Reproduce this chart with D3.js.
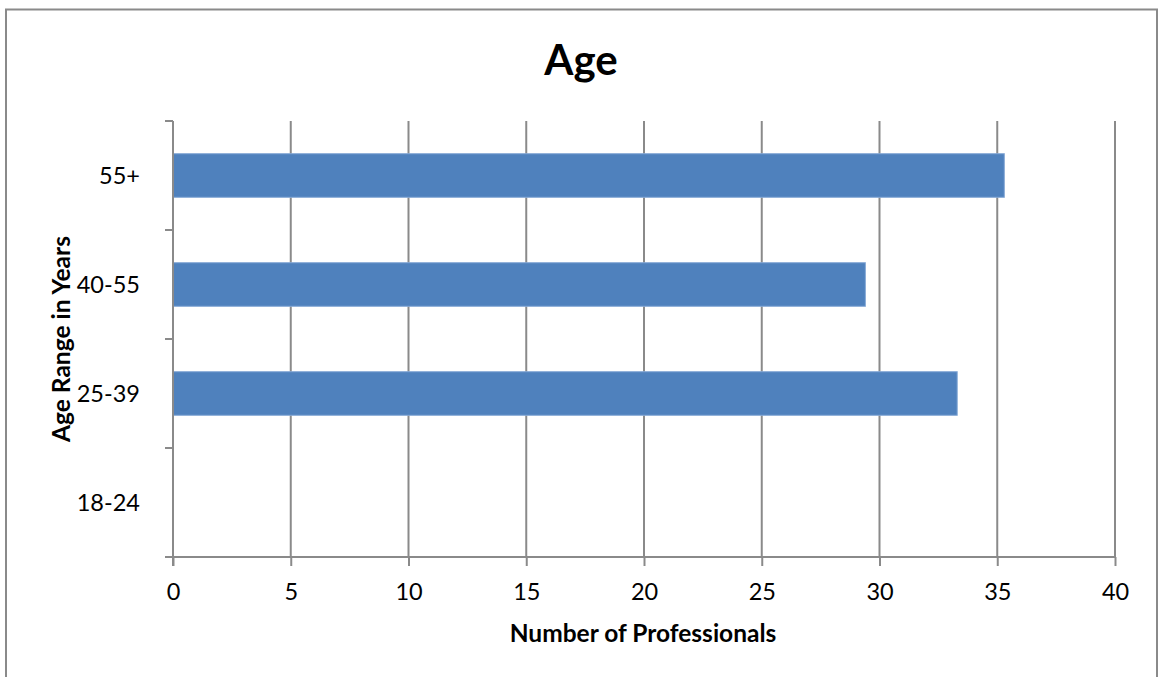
<!DOCTYPE html>
<html>
<head>
<meta charset="utf-8">
<script src="https://cdn.jsdelivr.net/npm/d3@7"></script>
<style>
  html, body { margin: 0; padding: 0; background: #fff; }
  svg text { font-family: Lato, "Open Sans", sans-serif; fill: #000; }
</style>
</head>
<body>
<svg id="chart" width="1159" height="677"></svg>
<script>
// Age distribution of surveyed professionals
const categories = ["18-24", "25-39", "40-55", "55+"];
const counts = [0, 33.3, 29.4, 35.3];
const xTicks = [0, 5, 10, 15, 20, 25, 30, 35, 40];
const chartTitle = "Age";
const xTitle = "Number of Professionals";
const yTitle = "Age Range in Years";

const data = categories.map((c, i) => ({ category: c, value: counts[i] }));

const svg = d3.select("#chart");
const plot = { left: 173, right: 1115, top: 121, bottom: 557 };
const gridColor = "#8a8a8a";

// Outer chart frame
svg.append("rect")
  .attr("x", 6).attr("y", 9.5)
  .attr("width", 1151).attr("height", 690)
  .attr("fill", "#fff")
  .attr("stroke", "#8a8a8a")
  .attr("stroke-width", 2);

const x = d3.scaleLinear().domain([0, 40]).range([plot.left, plot.right]);
// Categories run bottom-to-top
const y = d3.scaleBand()
  .domain(categories)
  .range([plot.bottom, plot.top])
  .paddingInner(0.6)
  .paddingOuter(0.3);
const band = d3.scaleBand().domain(categories).range([plot.bottom, plot.top]);

// Vertical gridlines
svg.append("g")
  .selectAll("line")
  .data(xTicks.filter(t => t > 0))
  .join("line")
  .attr("x1", d => x(d)).attr("x2", d => x(d))
  .attr("y1", plot.top).attr("y2", plot.bottom)
  .attr("stroke", gridColor)
  .attr("stroke-width", 2);

// Bars
svg.append("g")
  .selectAll("rect")
  .data(data.filter(d => d.value > 0))
  .join("rect")
  .attr("x", x(0))
  .attr("y", d => y(d.category))
  .attr("width", d => x(d.value) - x(0))
  .attr("height", y.bandwidth())
  .attr("fill", "#4f81bd")
  .attr("stroke", "#86a9d6")
  .attr("stroke-width", 1);

// X axis
const xAxis = svg.append("g")
  .attr("transform", `translate(0,${plot.bottom})`)
  .call(d3.axisBottom(x).tickValues(xTicks).tickSize(9).tickPadding(17).tickSizeOuter(0));
xAxis.select(".domain").attr("stroke", gridColor).attr("stroke-width", 2)
  .attr("d", `M${plot.left - 8},0H${plot.right}`);
xAxis.selectAll(".tick line").attr("stroke", gridColor).attr("stroke-width", 2);
xAxis.selectAll(".tick text")
  .style("font-family", "Lato, 'Open Sans', sans-serif")
  .style("font-size", "23.5px")
  .attr("fill", "#000");

// Y axis: ticks mark band boundaries, labels sit at band centers
const yAxisG = svg.append("g").attr("transform", `translate(${plot.left},0)`);
yAxisG.append("line")
  .attr("x1", 0).attr("x2", 0)
  .attr("y1", plot.top).attr("y2", plot.bottom + 9)
  .attr("stroke", gridColor).attr("stroke-width", 2);
const boundaries = categories.map(c => band(c)).concat([plot.bottom]);
yAxisG.selectAll("line.tick")
  .data(boundaries)
  .join("line")
  .attr("class", "tick")
  .attr("x1", -8).attr("x2", 0)
  .attr("y1", d => d).attr("y2", d => d)
  .attr("stroke", gridColor).attr("stroke-width", 2);
yAxisG.selectAll("text")
  .data(categories)
  .join("text")
  .attr("x", -33)
  .attr("y", d => band(d) + band.bandwidth() / 2)
  .attr("dy", "0.35em")
  .attr("text-anchor", "end")
  .style("font-size", "23.5px")
  .text(d => d);

// Titles
svg.append("text")
  .attr("x", 581).attr("y", 75)
  .attr("text-anchor", "middle")
  .style("font-size", "42px")
  .style("font-weight", "bold")
  .text(chartTitle);

svg.append("text")
  .attr("x", 643).attr("y", 642)
  .attr("text-anchor", "middle")
  .style("font-size", "24.5px")
  .style("font-weight", "bold")
  .text(xTitle);

svg.append("text")
  .attr("transform", `translate(70,${(plot.top + plot.bottom) / 2}) rotate(-90)`)
  .attr("text-anchor", "middle")
  .style("font-size", "24.5px")
  .style("font-weight", "bold")
  .text(yTitle);
</script>
</body>
</html>
